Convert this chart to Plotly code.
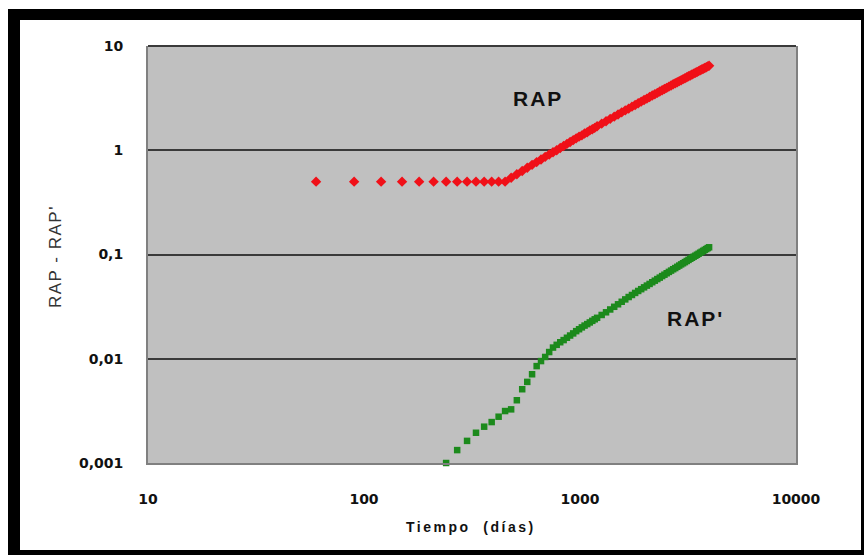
import plotly.graph_objects as go

# ---- data ----
rap_days = [60, 90, 120, 150, 180, 210, 240, 270, 300, 330, 360, 390, 420, 450,
            480, 510, 540, 570, 600, 630, 660, 690, 720, 750, 780, 810, 840, 870,
            900, 930, 960, 990, 1020, 1050, 1080, 1110, 1140, 1170, 1200, 1260,
            1320, 1380, 1440, 1500, 1560, 1620, 1680, 1740, 1800, 1860, 1920, 1980,
            2040, 2100, 2160, 2220, 2280, 2340, 2400, 2460, 2520, 2580, 2640, 2700,
            2760, 2820, 2880, 2940, 3000, 3060, 3120, 3180, 3240, 3300, 3360, 3420,
            3480, 3540, 3600, 3660, 3720, 3780, 3840, 3900, 3960]
rap_vals = [0.5, 0.5, 0.5, 0.5, 0.5, 0.5, 0.5, 0.5, 0.5, 0.5, 0.5, 0.5, 0.5, 0.5,
            0.545, 0.588, 0.632, 0.679, 0.724, 0.77, 0.815, 0.864, 0.91, 0.957, 1.0, 1.05,
            1.10, 1.15, 1.20, 1.25, 1.30, 1.35, 1.39, 1.45, 1.49, 1.55, 1.59, 1.64,
            1.70, 1.80, 1.90, 2.0, 2.10, 2.20, 2.31, 2.41, 2.51, 2.62, 2.72, 2.82,
            2.93, 3.03, 3.13, 3.24, 3.35, 3.45, 3.55, 3.66, 3.76, 3.87, 3.97, 4.08,
            4.18, 4.29, 4.39, 4.49, 4.60, 4.70, 4.81, 4.91, 5.02, 5.12, 5.22, 5.33,
            5.43, 5.53, 5.64, 5.74, 5.85, 5.95, 6.06, 6.16, 6.26, 6.37, 6.47]

rapd_days = [240, 270, 300, 330, 360, 390, 420, 450, 480, 510, 540, 570, 600, 630,
             660, 690, 720, 750, 780, 810, 840, 870, 900, 930, 960, 990, 1020, 1050,
             1080, 1110, 1140, 1170, 1200, 1260, 1320, 1380, 1440, 1500, 1560, 1620,
             1680, 1740, 1800, 1860, 1920, 1980, 2040, 2100, 2160, 2220, 2280, 2340,
             2400, 2460, 2520, 2580, 2640, 2700, 2760, 2820, 2880, 2940, 3000, 3060,
             3120, 3180, 3240, 3300, 3360, 3420, 3480, 3540, 3600, 3660, 3720, 3780,
             3840, 3900, 3960]
rapd_vals = [0.00100, 0.00133, 0.00163, 0.00195, 0.00223, 0.00247, 0.00278, 0.00315,
             0.00327, 0.0040, 0.0051, 0.0060, 0.0071, 0.0085, 0.0095, 0.0104, 0.0116,
             0.0128, 0.0136, 0.0144, 0.0151, 0.0159, 0.0167, 0.0175, 0.0184, 0.0192,
             0.0200, 0.0208, 0.0215, 0.0223, 0.0231, 0.0239, 0.0247, 0.0263, 0.0279,
             0.0297, 0.0315, 0.0333, 0.0352, 0.0371, 0.0391, 0.0409, 0.0428, 0.0447,
             0.0465, 0.0484, 0.0503, 0.0522, 0.0542, 0.0561, 0.0581, 0.0600, 0.0621,
             0.0640, 0.0661, 0.0681, 0.0701, 0.0722, 0.0741, 0.0762, 0.0783, 0.0804,
             0.0824, 0.0845, 0.0867, 0.0888, 0.0910, 0.0931, 0.0953, 0.0973, 0.0995,
             0.1016, 0.1040, 0.1062, 0.1084, 0.1107, 0.1127, 0.1151, 0.1173]

x_tickvals = [10, 100, 1000, 10000]
x_ticktext = ["10", "100", "1000", "10000"]
y_tickvals = [0.001, 0.01, 0.1, 1, 10]
y_ticktext = ["0,001", "0,01", "0,1", "1", "10"]

W, H = 864, 555
L, R, T, B = 148, 796, 46, 463


def px(x):
    return (x - L) / (R - L)


def py(y):
    return (B - y) / (B - T)


FONT = "Liberation Sans, Arial, sans-serif"
TICKFONT = "DejaVu Sans, Liberation Sans, sans-serif"

fig = go.Figure()
fig.add_trace(go.Scatter(x=rap_days, y=rap_vals, mode="markers", name="RAP",
                         cliponaxis=False,
                         marker=dict(symbol="diamond", size=8, color="#f01018",
                                     line=dict(width=0))))
fig.add_trace(go.Scatter(x=rapd_days, y=rapd_vals, mode="markers", name="RAP'",
                         cliponaxis=False,
                         marker=dict(symbol="square", size=6.5, color="#1c8a1c",
                                     line=dict(width=0))))

fig.update_layout(
    width=W, height=H,
    margin=dict(l=L, r=W - R, t=T, b=H - B, pad=0),
    paper_bgcolor="white", plot_bgcolor="#c0c0c0",
    showlegend=False,
    font=dict(family=FONT, color="#111111"),
    xaxis=dict(type="log", range=[1, 4], tickvals=x_tickvals, ticktext=x_ticktext,
               showgrid=False, zeroline=False, showline=True, linecolor="#808080",
               linewidth=2, ticks="", ticklabelstandoff=22,
               tickfont=dict(size=14, family=TICKFONT, weight="bold", color="#111111")),
    yaxis=dict(type="log", range=[-3, 1], tickvals=y_tickvals, ticktext=y_ticktext,
               showgrid=True, gridcolor="#3a3a3a", gridwidth=2, zeroline=False,
               showline=True, mirror=True, linecolor="#808080", linewidth=2,
               ticks="", ticklabelstandoff=20,
               tickfont=dict(size=14, family=TICKFONT, weight="bold", color="#111111")),
)

shapes = []
# top dark line at y = 10
shapes.append(dict(type="line", xref="paper", yref="paper", x0=0, x1=1, y0=1, y1=1,
                   line=dict(color="#3a3a3a", width=2)))
# black frame
for x0, x1, y0, y1 in [(8, 864, 9, 20), (8, 20, 9, 555), (861, 864, 9, 555), (8, 864, 550, 555)]:
    shapes.append(dict(type="rect", xref="paper", yref="paper",
                       x0=px(x0), x1=px(x1), y0=py(y1), y1=py(y0),
                       fillcolor="black", line=dict(width=0), layer="above"))
fig.update_layout(shapes=shapes)

fig.add_annotation(text="<span style='letter-spacing:2px'><b>RAP</b></span>",
                   xref="paper", yref="paper", x=px(538), y=py(98),
                   xanchor="center", yanchor="middle",
                   showarrow=False, font=dict(size=21, family=FONT, color="#111111"))
fig.add_annotation(text="<span style='letter-spacing:2px'><b>RAP'</b></span>",
                   xref="paper", yref="paper", x=px(695), y=py(318),
                   xanchor="center", yanchor="middle",
                   showarrow=False, font=dict(size=21, family=FONT, color="#111111"))
fig.add_annotation(text="<span style='letter-spacing:2.5px'><b>Tiempo  (días)</b></span>",
                   xref="paper", yref="paper", x=px(471), y=py(527),
                   xanchor="center", yanchor="middle",
                   showarrow=False, font=dict(size=14, family=FONT, color="#111111"))
fig.add_annotation(text="<span style='letter-spacing:1.5px'>RAP - RAP'</span>",
                   xref="paper", yref="paper", x=px(55), y=py(257),
                   xanchor="center", yanchor="middle",
                   textangle=-90, showarrow=False,
                   font=dict(size=17, family=FONT, color="#333333"))

fig.write_html("out.html")
